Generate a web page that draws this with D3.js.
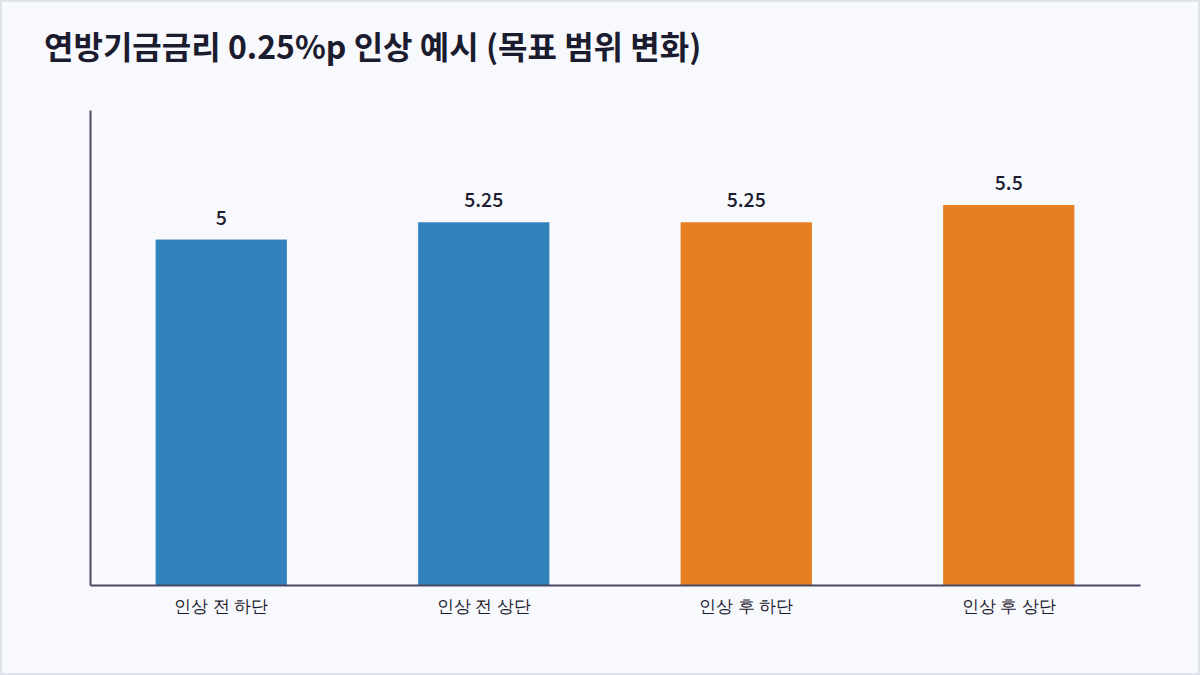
<!DOCTYPE html>
<html>
<head>
<meta charset="utf-8">
<script src="https://cdn.jsdelivr.net/npm/d3@7.9.0/dist/d3.min.js"></script>
<style>
  html, body { margin: 0; padding: 0; background: #dfe4ec; }
  svg { display: block; font-family: "Noto Sans CJK KR", "Noto Sans", sans-serif; }
</style>
</head>
<body>
<script>
// ─── DATA ────────────────────────────────────────────────────────────────
const categories = ['인상 전 하단', '인상 전 상단', '인상 후 하단', '인상 후 상단'];
const rates      = [5, 5.25, 5.25, 5.5];
const groups     = ['before', 'before', 'after', 'after'];
const title      = '연방기금금리 0.25%p 인상 예시 (목표 범위 변화)';

// ─── SIZE ────────────────────────────────────────────────────────────────
const W = 1200, H = 675;
const margin = { top: 110, right: 60, bottom: 90, left: 90 };
const width  = W - margin.left - margin.right;
const height = H - margin.top - margin.bottom;

const svg = d3.select('body').append('svg')
  .attr('width', W).attr('height', H);

// page card
svg.append('rect')
  .attr('x', 2).attr('y', 2)
  .attr('width', W - 4).attr('height', H - 4)
  .attr('fill', '#f8f9fd');

svg.append('text')
  .attr('x', 44).attr('y', 59)
  .attr('font-size', 32).attr('font-weight', 700)
  .attr('fill', '#1c1c30')
  .text(title);

const g = svg.append('g')
  .attr('transform', `translate(${margin.left},${margin.top})`);

// ─── SCALES ──────────────────────────────────────────────────────────────
const x = d3.scaleBand()
  .domain(categories)
  .range([0, width])
  .paddingInner(0.5)
  .paddingOuter(0.25);

const y = d3.scaleLinear()
  .domain([0, d3.max(rates) * 1.25])
  .range([height, 0]);

const color = d3.scaleOrdinal()
  .domain(['before', 'after'])
  .range(['#3182bd', '#e67e22']);

// ─── BARS ────────────────────────────────────────────────────────────────
const rows = categories.map((c, i) => ({ cat: c, val: rates[i], grp: groups[i] }));

g.selectAll('rect.bar')
  .data(rows)
  .enter().append('rect')
    .attr('class', 'bar')
    .attr('x', d => x(d.cat))
    .attr('y', d => y(d.val))
    .attr('width', x.bandwidth())
    .attr('height', d => height - y(d.val))
    .attr('fill', d => color(d.grp));

g.selectAll('text.val')
  .data(rows)
  .enter().append('text')
    .attr('class', 'val')
    .attr('x', d => x(d.cat) + x.bandwidth() / 2)
    .attr('y', d => y(d.val) - 15)
    .attr('text-anchor', 'middle')
    .attr('font-size', 19.5).attr('font-weight', 500)
    .attr('fill', '#1c1c30')
    .text(d => d.val);

// ─── AXES ────────────────────────────────────────────────────────────────
const xAxis = g.append('g')
  .attr('transform', `translate(0,${height})`)
  .call(d3.axisBottom(x).tickSize(0).tickPadding(15));
xAxis.select('.domain').attr('stroke', '#4a4866').attr('stroke-width', 2);
xAxis.selectAll('text')
  .attr('font-size', 17).attr('font-weight', 500)
  .attr('fill', '#1c1c30');

const yAxis = g.append('g')
  .call(d3.axisLeft(y).tickSize(0).tickValues([]));
yAxis.select('.domain').attr('stroke', '#4a4866').attr('stroke-width', 2);
</script>
</body>
</html>
